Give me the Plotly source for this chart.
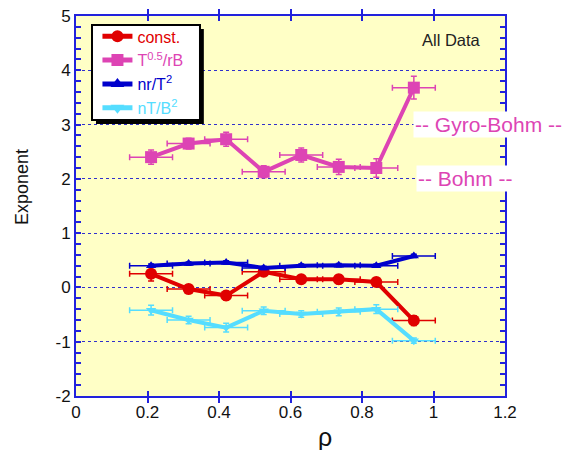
import plotly.graph_objects as go

# Radial positions and scaling exponents for each fitted parameter
rho = [0.21, 0.315, 0.42, 0.525, 0.63, 0.735, 0.84, 0.945]
rho_err = [0.06, 0.06, 0.06, 0.06, 0.06, 0.06, 0.06, 0.06]

const = [0.25, -0.03, -0.15, 0.29, 0.15, 0.15, 0.10, -0.61]
const_err = [0.13, 0.08, 0.08, 0.07, 0.07, 0.08, 0.08, 0.09]

t05_rb = [2.40, 2.65, 2.73, 2.13, 2.44, 2.22, 2.20, 3.68]
t05_rb_err = [0.13, 0.10, 0.13, 0.11, 0.13, 0.14, 0.17, 0.21]

nr_t2 = [0.40, 0.44, 0.46, 0.36, 0.40, 0.41, 0.40, 0.58]
nr_t2_err = [0.03, 0.03, 0.03, 0.03, 0.03, 0.03, 0.03, 0.03]

nt_b2 = [-0.42, -0.60, -0.74, -0.43, -0.49, -0.45, -0.40, -0.98]
nt_b2_err = [0.09, 0.07, 0.08, 0.07, 0.06, 0.07, 0.08, 0.05]

y_ticks = [-2, -1, 0, 1, 2, 3, 4, 5]
y_tick_labels = ["-2", "-1", "0", "1", "2", "3", "4", "5"]
x_ticks = [0, 0.2, 0.4, 0.6, 0.8, 1.0, 1.2]
x_tick_labels = ["0", "0.2", "0.4", "0.6", "0.8", "1", "1.2"]

series = [
    ("const.", const, const_err, "#e00000", "circle", 12),
    ("T<sup>0.5</sup>/rB", t05_rb, t05_rb_err, "#dd44b4", "square", 12),
    ("nr/T<sup>2</sup>", nr_t2, nr_t2_err, "#0000cc", "triangle-up", 9),
    ("nT/B<sup>2</sup>", nt_b2, nt_b2_err, "#55ddff", "triangle-down", 9),
]

FONT = "Liberation Sans, Arial"
fig = go.Figure()
for name, vals, errs, color, symbol, size in series:
    fig.add_trace(go.Scatter(
        x=rho, y=vals, mode="lines+markers",
        name=f"<span style='color:{color}'>{name}</span>",
        line=dict(color=color, width=4),
        marker=dict(color=color, symbol=symbol, size=size),
        error_x=dict(type="data", array=rho_err, color=color, thickness=1.5, width=3),
        error_y=dict(type="data", array=errs, color=color, thickness=1.5, width=3),
    ))

axis_blue = "#2222dd"
tick_common = dict(ticks="inside", ticklen=5, tickcolor=axis_blue, tickwidth=1.5)

fig.update_layout(
    xaxis=dict(
        range=[0, 1.2], tickvals=x_ticks, ticktext=x_tick_labels,
        showgrid=False, zeroline=False, automargin=False,
        showline=True, linecolor=axis_blue, linewidth=2, mirror="allticks",
        tickfont=dict(family=FONT, size=17, color="#111"),
        **tick_common,
    ),
    yaxis=dict(
        range=[-2, 5], tickvals=y_ticks, ticktext=y_tick_labels, zeroline=False,
        showgrid=True, gridcolor="#3030cc", gridwidth=1, griddash="dot", automargin=False,
        showline=True, linecolor=axis_blue, linewidth=2,
        minor=dict(dtick=0.2, tick0=0, showgrid=False, **tick_common),
        tickfont=dict(family=FONT, size=17, color="#111"),
        **tick_common,
    ),
    # right-hand frame with the same tick marks as the left axis
    yaxis2=dict(
        overlaying="y", side="right", matches="y", range=[-2, 5], automargin=False,
        tickvals=y_ticks, showticklabels=False, showgrid=False, zeroline=False,
        showline=True, linecolor=axis_blue, linewidth=2,
        minor=dict(dtick=0.2, tick0=0, showgrid=False, **tick_common),
        **tick_common,
    ),
)
# invisible trace to activate the right-hand axis
fig.add_trace(go.Scatter(x=[rho[0]], y=[const[0]], yaxis="y2", mode="markers",
                         marker=dict(opacity=0), showlegend=False, hoverinfo="skip"))

# Axis titles
fig.add_annotation(x=-0.126, y=0.55, xref="paper", yref="paper", text="Exponent",
                   textangle=-90, showarrow=False, xanchor="center", yanchor="middle",
                   font=dict(family=FONT, size=18, color="#111"))
fig.add_annotation(x=0.58, y=-0.108, xref="paper", yref="paper", text="ρ",
                   showarrow=False, xanchor="center", yanchor="middle",
                   font=dict(family=FONT, size=25, color="#111"))

# Legend frame with drop shadow
fig.add_shape(type="rect", xref="paper", yref="paper",
              x0=0.0466, x1=0.298, y0=0.716, y1=0.966,
              fillcolor="black", line=dict(width=0), layer="above")
fig.add_shape(type="rect", xref="paper", yref="paper",
              x0=0.0373, x1=0.289, y0=0.726, y1=0.976,
              fillcolor="white", line=dict(color="black", width=2), layer="above")

fig.add_annotation(x=1.05, y=4.55, xref="x", yref="y", text="All Data", showarrow=False,
                   font=dict(family=FONT, size=16.5, color="#222"))
fig.add_annotation(x=0.786, y=3.0, xref="paper", yref="y", text="-- Gyro-Bohm --",
                   showarrow=False, xanchor="left", bgcolor="white",
                   font=dict(family=FONT, size=21, color="#dd44b4"))
fig.add_annotation(x=0.793, y=2.0, xref="paper", yref="y", text="-- Bohm --",
                   showarrow=False, xanchor="left", bgcolor="white",
                   font=dict(family=FONT, size=21, color="#dd44b4"))

fig.update_layout(
    width=569, height=450,
    margin=dict(l=76, r=64, t=16, b=54),
    paper_bgcolor="white", plot_bgcolor="#ffffc6",
    showlegend=True,
    legend=dict(x=0.05, y=0.991, xanchor="left", yanchor="top",
                bgcolor="rgba(0,0,0,0)", borderwidth=0,
                font=dict(family=FONT, size=16, color="#000"),
                tracegroupgap=0, itemsizing="constant"),
)

fig.write_html("out.html")
